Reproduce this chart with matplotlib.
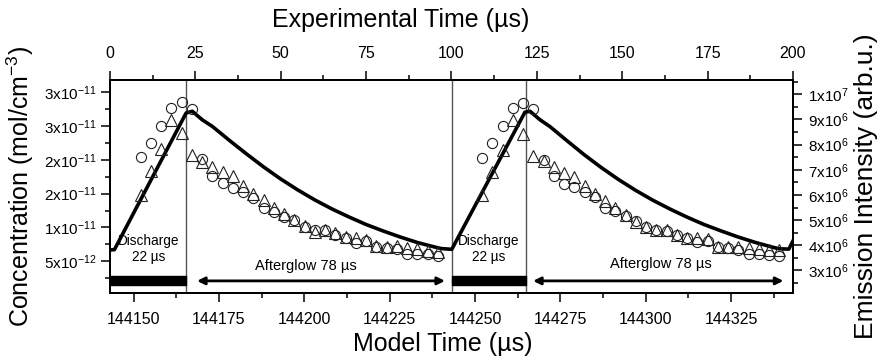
import numpy as np
import matplotlib
matplotlib.use("Agg")
import matplotlib.pyplot as plt
from matplotlib.ticker import FixedLocator, FixedFormatter, MultipleLocator

plt.rcParams["font.family"] = ["Liberation Sans", "DejaVu Sans"]
plt.rcParams["mathtext.fontset"] = "custom"
plt.rcParams["mathtext.rm"] = "Liberation Sans"
plt.rcParams["mathtext.default"] = "regular"

#------- data (experimental time in us) -------#

model_offset = 144143.1  # model time = experimental time + offset

# model concentration (units 1e-12 mol/cm3)
t_model = [0, 1.3, 22.3, 24.1, 27, 30, 35, 40, 45, 50, 55, 60, 65, 70, 75, 80, 85, 90, 95, 97, 100.1,
           121.5, 123, 125.9, 128.9, 133.9, 138.9, 143.9, 148.9, 153.9, 158.9, 163.9, 168.9, 173.9,
           178.9, 183.9, 188.9, 193.9, 195.9, 198.8, 200]
c_model = [6.67, 6.72, 26.93, 27.19, 25.93, 24.94, 22.87, 20.87, 18.95, 17.17, 15.55, 14.07, 12.74,
           11.55, 10.44, 9.48, 8.59, 7.78, 7.12, 6.88, 6.77,
           27.04, 27.19, 25.94, 24.90, 22.80, 20.75, 18.85, 17.10, 15.50, 14.05, 12.75, 11.55, 10.45,
           9.50, 8.60, 7.80, 7.10, 6.85, 6.80, 8.0]

# measured emission (units 1e6 arb.u.)
t_exp = [9, 12, 15, 18, 21, 24, 27, 30, 33, 36, 39, 42, 45, 48, 51, 54, 57, 60, 63, 66, 69, 72, 75,
         78, 81, 84, 87, 90, 93, 96,
         109, 112, 115, 118, 121, 124, 127, 130, 133, 136, 139, 142, 145, 148, 151, 154, 157, 160,
         163, 166, 169, 172, 175, 178, 181, 184, 187, 190, 193, 196]
circles = [7.52, 8.05, 8.73, 9.46, 9.67, 9.40, 7.42, 6.75, 6.48, 6.29, 6.13, 5.87, 5.47, 5.33, 5.13,
           5.00, 4.74, 4.61, 4.61, 4.41, 4.29, 4.10, 4.18, 3.94, 3.89, 3.85, 3.65, 3.65, 3.65, 3.57,
           7.46, 8.06, 8.73, 9.44, 9.66, 9.39, 7.40, 6.75, 6.44, 6.31, 6.10, 5.92, 5.47, 5.37, 5.17,
           4.97, 4.74, 4.61, 4.58, 4.41, 4.29, 4.12, 4.18, 3.94, 3.89, 3.83, 3.67, 3.65, 3.63, 3.57]
triangles = [6.00, 6.95, 7.81, 8.97, 8.44, 7.58, 7.32, 7.12, 6.90, 6.75, 6.37, 6.04, 5.80, 5.47, 5.23,
             5.00, 4.78, 4.53, 4.61, 4.48, 4.33, 4.29, 4.21, 3.99, 3.95, 3.99, 3.88, 3.84, 3.79, 3.75,
             5.99, 6.91, 7.79, 8.98, 8.40, 7.56, 7.33, 7.11, 6.88, 6.73, 6.35, 6.02, 5.77, 5.48, 5.20,
             4.94, 4.71, 4.61, 4.61, 4.41, 4.28, 4.28, 4.25, 3.94, 3.94, 3.92, 3.88, 3.84, 3.81, 3.81]

discharges = [(0, 22.4), (100.1, 121.8)]
afterglows = [(25.5, 98.1), (123.9, 197.2)]

top_ticks = [0, 25, 50, 75, 100, 125, 150, 175, 200]
bottom_ticks = [144150, 144175, 144200, 144225, 144250, 144275, 144300, 144325]
left_ticks = [5e-12, 1e-11, 1.5e-11, 2e-11, 2.5e-11, 3e-11]
left_labels = [r"5x10$^{-12}$", r"1x10$^{-11}$", r"2x10$^{-11}$", r"2x10$^{-11}$",
               r"3x10$^{-11}$", r"3x10$^{-11}$"]
right_ticks = [3e6, 4e6, 5e6, 6e6, 7e6, 8e6, 9e6, 1e7]
right_labels = [r"3x10$^{6}$", r"4x10$^{6}$", r"5x10$^{6}$", r"6x10$^{6}$", r"7x10$^{6}$",
                r"8x10$^{6}$", r"9x10$^{6}$", r"1x10$^{7}$"]

#------- figure -------#

fig = plt.figure(figsize=(8.84, 3.58), dpi=100)
ax = fig.add_axes([0.1244, 0.1816, 0.7726, 0.5949])
ax2 = ax.twinx()

ax.plot(t_model, np.array(c_model) * 1e-12, color="black", lw=2.6, solid_joinstyle="round", zorder=3)
ax2.plot(t_exp, np.array(circles) * 1e6, ls="none", marker="o", ms=7.3, mfc="none", mec="#222222", mew=0.8)
ax2.plot(t_exp, np.array(triangles) * 1e6, ls="none", marker="^", ms=8, mfc="none", mec="#222222", mew=0.8)

for t0, t1 in discharges:
    ax.axvline(t1, color="#555555", lw=1, zorder=1)
    if t0 > 0:
        ax.axvline(t0, color="#555555", lw=1, zorder=1)
ax.broken_barh([(t0, t1 - t0) for t0, t1 in discharges], (1.5e-12, 1.35e-12), color="black", zorder=2)
for t0, t1 in afterglows:
    ax.annotate("", xy=(t1, 2.1e-12), xytext=(t0, 2.1e-12),
                arrowprops=dict(arrowstyle="<|-|>", color="black", lw=2.0, mutation_scale=11,
                                shrinkA=0, shrinkB=0))

for t0, t1 in discharges:
    ax.text((t0 + t1) / 2, 6.8e-12, "Discharge\n22 µs", ha="center", va="center", fontsize=9.8,
            linespacing=1.2)
ax.text(57.4, 4.3e-12, "Afterglow 78 µs", ha="center", va="center", fontsize=10.5)
ax.text(161.3, 4.6e-12, "Afterglow 78 µs", ha="center", va="center", fontsize=10.5)

ax.set_xlim(0, 200)
ax.set_ylim(0.31e-12, 31.81e-12)
ax2.set_ylim(2.107e6, 10.56e6)

# top axis: experimental time
ax.xaxis.tick_top()
ax.xaxis.set_label_position("top")
ax.xaxis.set_major_locator(FixedLocator(top_ticks))
ax.xaxis.set_minor_locator(MultipleLocator(12.5))
ax.set_xlabel("Experimental Time (µs)", fontsize=18)
ax.xaxis.set_label_coords(0.425, 1.25)

# bottom axis: model time
secax = ax.secondary_xaxis("bottom", functions=(lambda t: t + model_offset, lambda m: m - model_offset))
secax.xaxis.set_major_locator(FixedLocator(bottom_ticks))
secax.xaxis.set_major_formatter(FixedFormatter([str(b) for b in bottom_ticks]))
secax.xaxis.set_minor_locator(MultipleLocator(12.5))
secax.set_xlabel("Model Time (µs)", fontsize=18, labelpad=4)
secax.xaxis.label.set_x(0.487)

ax.yaxis.set_major_locator(FixedLocator(left_ticks))
ax.yaxis.set_major_formatter(FixedFormatter(left_labels))
ax.yaxis.set_minor_locator(MultipleLocator(2.5e-12))
ax.set_ylabel("Concentration (mol/cm$^{-3}$)", fontsize=18, labelpad=6)

ax2.yaxis.set_major_locator(FixedLocator(right_ticks))
ax2.yaxis.set_major_formatter(FixedFormatter(right_labels))
ax2.yaxis.set_minor_locator(MultipleLocator(0.5e6))
ax2.set_ylabel("Emission Intensity (arb.u.)", fontsize=19, labelpad=4)

for a in (ax, ax2, secax):
    a.tick_params(which="major", length=6.5, width=1.1, direction="out", labelsize=11.5)
    a.tick_params(which="minor", length=3.6, width=1.1, direction="out")
    for s in a.spines.values():
        s.set_linewidth(1.4)
ax.tick_params(axis="x", which="major", pad=7, labelsize=11.5)
secax.tick_params(axis="x", which="major", pad=7, labelsize=11.5)
ax.tick_params(axis="y", which="major", pad=3, labelsize=11)
ax2.tick_params(axis="y", which="major", pad=4, labelsize=11)

fig.savefig("out.png", dpi=100)
